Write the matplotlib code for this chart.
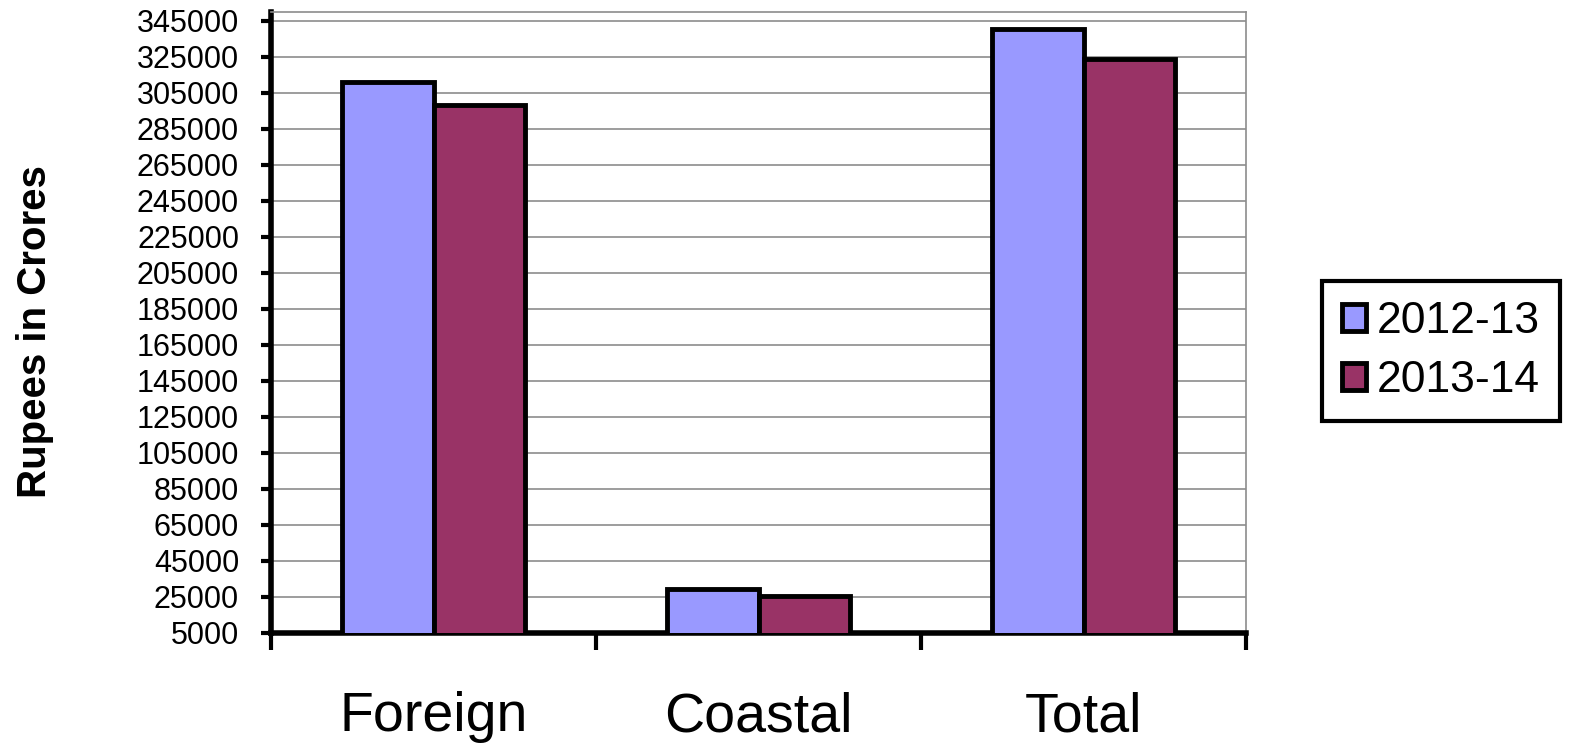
import matplotlib.pyplot as plt
import numpy as np

categories = ["Foreign", "Coastal", "Total"]
series_names = ["2012-13", "2013-14"]
values_2012_13 = [311300, 29300, 340600]
values_2013_14 = [298100, 25800, 323900]
y_ticks = list(range(5000, 345001, 20000))

colors = ["#9999FF", "#993366"]

plt.rcParams["font.family"] = ["Liberation Sans", "DejaVu Sans"]

fig = plt.figure(figsize=(15.69, 7.46), dpi=100)
ax = fig.add_axes([271 / 1569, 1 - 633 / 746, 975 / 1569, 621 / 746])

x = np.arange(len(categories))
width = 0.283
for i, (vals, name) in enumerate(zip([values_2012_13, values_2013_14], series_names)):
    offset = (i - 0.5) * width
    ax.bar(x + offset, vals, width, color=colors[i], edgecolor="black",
           linewidth=3.5, label=name, zorder=3)

ax.set_xlim(-0.5, len(categories) - 0.5)
ax.set_ylim(5000, 350000)
ax.set_yticks(y_ticks)
ax.set_yticklabels([str(t) for t in y_ticks], fontsize=22)
ax.yaxis.grid(True, color="#8c8c8c", linewidth=1.2, zorder=0)
ax.set_axisbelow(True)

# category labels centred, tick marks at the category boundaries
ax.set_xticks(x)
ax.set_xticklabels(categories, fontsize=40)
ax.tick_params(axis="x", which="major", length=0, pad=42)
ax.set_xticks(np.arange(len(categories) + 1) - 0.5, minor=True)
ax.tick_params(axis="x", which="minor", length=12, width=3, direction="out")
ax.tick_params(axis="y", length=7, width=3, direction="out", pad=16)

for side in ("left", "bottom"):
    ax.spines[side].set_linewidth(4)
    ax.spines[side].set_color("black")
for side in ("top", "right"):
    ax.spines[side].set_linewidth(1.2)
    ax.spines[side].set_color("#8c8c8c")

ax.set_ylabel("Rupees in Crores", fontsize=29, fontweight="bold", va="center")
ax.yaxis.set_label_coords(-0.242, 0.4855)

fig.legend(loc="center", bbox_to_anchor=(0.9184, 0.5295), fontsize=32,
           frameon=True, fancybox=False, edgecolor="black", framealpha=1,
           handlelength=0.55, handleheight=0.55, handletextpad=0.25,
           labelspacing=0.4, borderpad=0.45).get_frame().set_linewidth(3)

fig.savefig("out.png", dpi=100)
